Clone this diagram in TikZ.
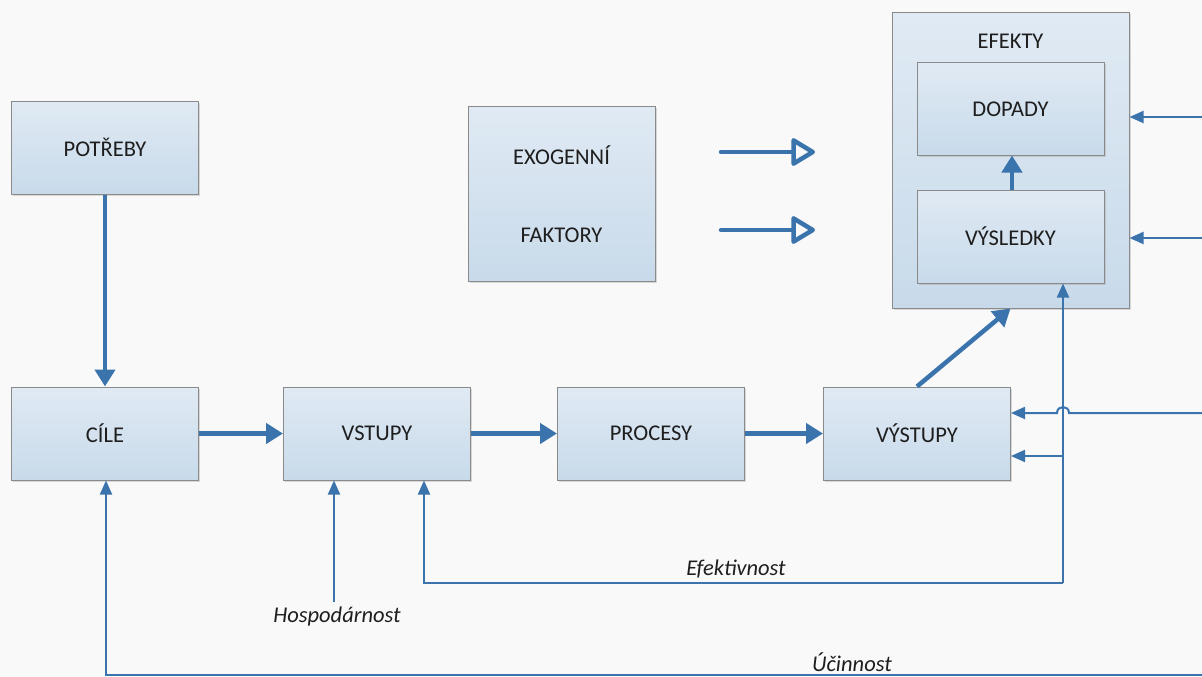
\documentclass[tikz,border=0pt]{standalone}
\usepackage{fontspec}
\setmainfont{Carlito}
\usetikzlibrary{arrows.meta,shadows}
\definecolor{bgc}{HTML}{F9F9F9}
\definecolor{boxtop}{HTML}{E0EAF4}
\definecolor{boxbot}{HTML}{C8DAEA}
\definecolor{boxedge}{HTML}{8A8A8A}
\definecolor{linec}{HTML}{3B73AD}
\definecolor{txt}{HTML}{1E1E1E}
\tikzset{
  blk/.style={draw=boxedge, line width=1pt, top color=boxtop, bottom color=boxbot,
    inner sep=0pt, text=txt, font=\fontsize{22.5}{27}\selectfont,
    drop shadow={shadow xshift=1.5pt, shadow yshift=-1.5pt, fill=black!40, opacity=.35}},
  thick arrow/.style={draw=linec, line width=4.5pt,
    -{Triangle[length=17pt,width=20pt]}},
  thin arrow/.style={draw=linec, line width=2pt,
    -{Triangle[length=14pt,width=12pt]}},
  open arrow/.style={draw=linec, line width=4.5pt, line cap=round,
    -{Triangle[open,length=26pt,width=30pt,line width=4.5pt,line join=round]}},
  lbl/.style={text=txt, font=\fontsize{22.5}{27}\selectfont\itshape, inner sep=0pt},
  ttl/.style={text=txt, font=\fontsize{22.5}{27}\selectfont, inner sep=0pt}
}
\begin{document}
\begin{tikzpicture}[x=1pt,y=-1pt]
\fill[bgc] (0,0) rectangle (1202,677);
\useasboundingbox (0,0) rectangle (1202,677);

% boxes
\node[blk, minimum width=187pt, minimum height=93pt] (potreby) at (105,147.5) {POTŘEBY};
\node[blk, minimum width=187pt, minimum height=93pt] (cile) at (105,433.5) {CÍLE};
\node[blk, minimum width=187pt, minimum height=93pt] (vstupy) at (377,433.5) {VSTUPY};
\node[blk, minimum width=187pt, minimum height=93pt] (procesy) at (651,433.5) {PROCESY};
\node[blk, minimum width=187pt, minimum height=93pt] (vystupy) at (917,433.5) {VÝSTUPY};
\node[blk, minimum width=187pt, minimum height=175pt, align=center] (exo) at (561.5,194)
  {EXOGENNÍ\\[51pt]FAKTORY};
\node[blk, minimum width=237pt, minimum height=295pt] (efekty) at (1010.5,160.5) {};
\node[ttl] (efektytxt) at (1010.5,41) {EFEKTY};
\node[blk, minimum width=187pt, minimum height=92pt] (dopady) at (1010.5,109) {DOPADY};
\node[blk, minimum width=187pt, minimum height=93pt] (vysledky) at (1010.5,236.5) {VÝSLEDKY};

% main flow
\draw[thick arrow] (potreby.south) -- (cile.north);
\draw[thick arrow] (cile.east) -- (vstupy.west);
\draw[thick arrow] (vstupy.east) -- (procesy.west);
\draw[thick arrow] (procesy.east) -- (vystupy.west);
\draw[thick arrow] (vystupy.north) -- (efekty.south);
\draw[thick arrow] ([xshift=1.5pt]vysledky.north) -- ([xshift=1.5pt]dopady.south);

% exogenous open arrows
\coordinate (x1a) at (721,152);
\coordinate (x1b) at (815,152);
\coordinate (x2a) at (721,230);
\coordinate (x2b) at (815,230);
\draw[open arrow] (x1a) -- (x1b);
\draw[open arrow] (x2a) -- (x2b);

% arrows from right edge into EFEKTY
\coordinate (r1) at (1202,117);
\coordinate (r2) at (1202,238);
\draw[thin arrow] (r1) -- (r1 -| efekty.east);
\draw[thin arrow] (r2) -- (r2 -| efekty.east);

% arrow from right edge into VYSTUPY with line jump
\coordinate (r3) at (1202,413);
\coordinate (j1) at (1069,413);
\coordinate (j2) at (1057,413);
\draw[thin arrow] (r3) -- (j1) .. controls (1069,405) and (1057,405) .. (j2) -- (r3 -| vystupy.east);

% efektivnost loop
\coordinate (e1) at (1063,583);
\coordinate (e2) at (424,583);
\coordinate (b1) at (1063,456);
\draw[thin arrow] (e1) -- (e1 |- vysledky.south);
\draw[thin arrow] (b1) -- (b1 -| vystupy.east);
\draw[thin arrow] (e1) -- (e2) -- (e2 |- vstupy.south);
\node[lbl] (efektivnost) at (736,569) {Efektivnost};

% hospodarnost
\coordinate (h1) at (334,602);
\draw[thin arrow] (h1) -- (h1 |- vstupy.south);
\node[lbl] (hospodarnost) at (337,616) {Hospodárnost};

% ucinnost
\coordinate (u0) at (1202,675);
\coordinate (u1) at (106,675);
\draw[thin arrow] (u0) -- (u1) -- (u1 |- cile.south);
\node[lbl] (ucinnost) at (852,662) {Účinnost};
\end{tikzpicture}
\end{document}
